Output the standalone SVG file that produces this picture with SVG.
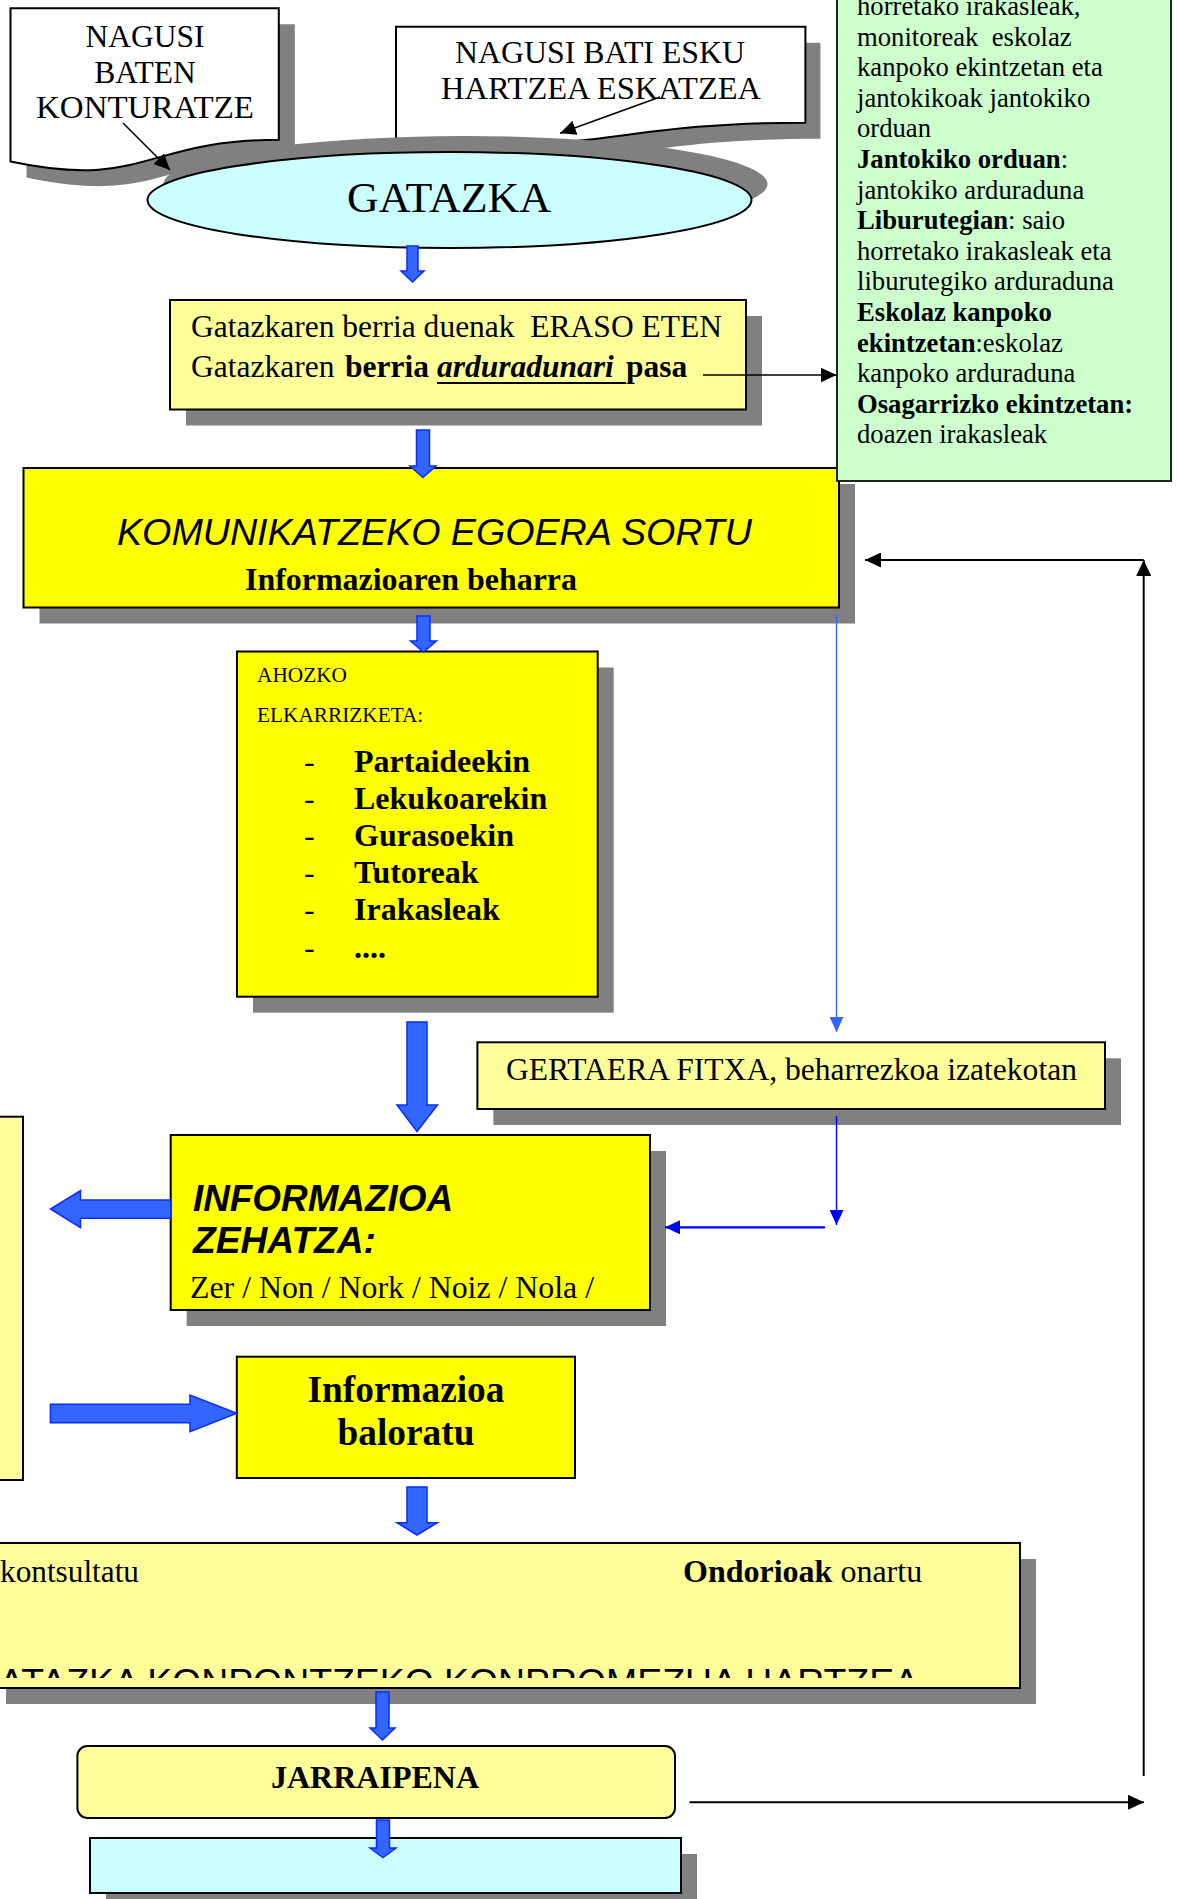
<svg xmlns="http://www.w3.org/2000/svg" width="1179" height="1899" viewBox="0 0 1179 1899">
<style>
.serif{font-family:"Liberation Serif","Times New Roman",serif;fill:#000}
.sans{font-family:"Liberation Sans",Arial,sans-serif;fill:#000}
.b{font-weight:bold}
.i{font-style:italic}
.box{stroke:#000;stroke-width:2}
.shadow{fill:#808080}
.ylw{fill:#FFFF00}
.pale{fill:#FFFF99}
.cyan{fill:#CCFFFF}
.green{fill:#CCFFCC}
.white{fill:#FFFFFF}
.blk{stroke:#000;fill:none}
.blu{fill:#3366FF;stroke:#0a2cff;stroke-width:1.5}
.mid{text-anchor:middle}
</style>
<defs>
<marker id="ah" markerUnits="userSpaceOnUse" markerWidth="16" markerHeight="15" viewBox="0 0 16 15" refX="16" refY="7.5" orient="auto"><path d="M0,0 L16,7.5 L0,15 Z" fill="#000"/></marker>
<marker id="ahb1" markerUnits="userSpaceOnUse" markerWidth="15" markerHeight="14" viewBox="0 0 15 14" refX="15" refY="7" orient="auto"><path d="M0,0 L15,7 L0,14 Z" fill="#3366FF"/></marker>
<marker id="ahb2" markerUnits="userSpaceOnUse" markerWidth="15" markerHeight="14" viewBox="0 0 15 14" refX="15" refY="7" orient="auto"><path d="M0,0 L15,7 L0,14 Z" fill="#0000FF"/></marker>
<clipPath id="clipBig"><rect x="-20" y="1545" width="1060" height="133"/></clipPath>
</defs>

<g id="node-nagusi-baten">
<path class="shadow" transform="translate(16,16)" d="M10.5,8.3 H278.8 V139.8 C144.6,139.8 144.6,189.9 10.5,161.5 Z"/>
<path class="white box" d="M10.5,8.3 H278.8 V139.8 C144.6,139.8 144.6,189.9 10.5,161.5 Z"/>
<text class="serif mid" x="145" y="47" font-size="31.5">NAGUSI</text>
<text class="serif mid" x="145" y="83" font-size="31.5">BATEN</text>
<text class="serif mid" x="145" y="118" font-size="31.5" textLength="218" lengthAdjust="spacingAndGlyphs">KONTURATZE</text>
</g>

<g id="node-nagusi-bati">
<path class="shadow" transform="translate(15,16)" d="M396,26.7 H805.4 V122.7 C600.7,122.7 600.7,159.3 396,138.5 Z"/>
<path class="white box" d="M396,26.7 H805.4 V122.7 C600.7,122.7 600.7,159.3 396,138.5 Z"/>
<text class="serif mid" x="600" y="63" font-size="31.5" textLength="290" lengthAdjust="spacingAndGlyphs">NAGUSI BATI ESKU</text>
<text class="serif mid" x="601" y="99" font-size="31.5" textLength="320" lengthAdjust="spacingAndGlyphs">HARTZEA ESKATZEA</text>
</g>

<g id="node-gatazka">
<ellipse class="shadow" cx="465.5" cy="184" rx="302" ry="48"/>
<ellipse class="cyan box" cx="449.5" cy="200" rx="302" ry="48"/>
<text class="serif mid" x="449" y="212" font-size="42" textLength="204" lengthAdjust="spacingAndGlyphs">GATAZKA</text>
</g>

<g id="node-berria">
<rect class="shadow" x="186" y="316" width="576" height="109.5"/>
<rect class="pale box" x="170" y="300" width="576" height="109.5"/>
<text class="serif" x="191" y="337" font-size="31.5" xml:space="preserve" textLength="531" lengthAdjust="spacingAndGlyphs">Gatazkaren berria duenak  ERASO ETEN</text>
<text class="serif" y="377" font-size="31.5"><tspan x="191">Gatazkaren</tspan><tspan class="b" x="345">berria</tspan><tspan class="b i" x="437">arduradunari</tspan><tspan class="b" x="626">pasa</tspan></text>
<line x1="437" y1="383" x2="626" y2="383" stroke="#000" stroke-width="2.2"/>
</g>

<g id="node-komunikatzeko">
<rect class="shadow" x="39.5" y="484" width="815.5" height="139.5"/>
<rect class="ylw box" x="23.5" y="468" width="815.5" height="139.5"/>
<text class="sans i" x="117" y="544.5" font-size="37" textLength="635" lengthAdjust="spacingAndGlyphs">KOMUNIKATZEKO EGOERA SORTU</text>
<text class="serif b" x="245" y="590" font-size="32" textLength="332" lengthAdjust="spacingAndGlyphs">Informazioaren beharra</text>
</g>

<g id="node-arduradunak">
<rect class="green" x="837" y="-20" width="334" height="501" stroke="#222" stroke-width="2"/>
<g class="serif" font-size="26.67">
<text x="857" y="15">horretako irakasleak,</text>
<text x="857" y="45.6" xml:space="preserve">monitoreak  eskolaz</text>
<text x="857" y="76.2">kanpoko ekintzetan eta</text>
<text x="857" y="106.8">jantokikoak jantokiko</text>
<text x="857" y="137.4">orduan</text>
<text x="857" y="168"><tspan class="b">Jantokiko orduan</tspan>:</text>
<text x="857" y="198.6">jantokiko arduraduna</text>
<text x="857" y="229.2"><tspan class="b">Liburutegian</tspan>: saio</text>
<text x="857" y="259.8">horretako irakasleak eta</text>
<text x="857" y="290.4">liburutegiko arduraduna</text>
<text x="857" y="321" class="b">Eskolaz kanpoko</text>
<text x="857" y="351.6"><tspan class="b">ekintzetan</tspan>:eskolaz</text>
<text x="857" y="382.2">kanpoko arduraduna</text>
<text x="857" y="412.8" class="b">Osagarrizko ekintzetan:</text>
<text x="857" y="443.4">doazen irakasleak</text>
</g>
</g>

<g id="node-ahozko">
<rect class="shadow" x="253" y="667.5" width="360.7" height="345.2"/>
<rect class="ylw box" x="237" y="651.5" width="360.7" height="345.2"/>
<text class="serif" x="257" y="682" font-size="21.3">AHOZKO</text>
<text class="serif" x="257" y="722.3" font-size="21.3">ELKARRIZKETA:</text>
<g class="serif" font-size="32">
<text x="304" y="772">-</text><text class="b" x="354" y="772">Partaideekin</text>
<text x="304" y="809">-</text><text class="b" x="354" y="809">Lekukoarekin</text>
<text x="304" y="846">-</text><text class="b" x="354" y="846">Gurasoekin</text>
<text x="304" y="883">-</text><text class="b" x="354" y="883">Tutoreak</text>
<text x="304" y="919.5">-</text><text class="b" x="354" y="919.5">Irakasleak</text>
<text x="304" y="957.5">-</text><text class="b" x="354" y="957.5">....</text>
</g>
</g>

<g id="node-gertaera">
<rect class="shadow" x="493.4" y="1058.3" width="627.6" height="66.7"/>
<rect class="pale box" x="477.4" y="1042.3" width="627.6" height="66.7"/>
<text class="serif" x="506" y="1080" font-size="31" textLength="571" lengthAdjust="spacingAndGlyphs">GERTAERA FITXA, beharrezkoa izatekotan</text>
</g>

<g id="node-informazioa-zehatza">
<rect class="shadow" x="186.7" y="1151" width="479.3" height="175"/>
<rect class="ylw box" x="170.7" y="1135" width="479.3" height="175"/>
<text class="sans b i" x="193" y="1210.7" font-size="36.8" textLength="260" lengthAdjust="spacingAndGlyphs">INFORMAZIOA</text>
<text class="sans b i" x="193" y="1253" font-size="36.8" textLength="183" lengthAdjust="spacingAndGlyphs">ZEHATZA:</text>
<text class="serif" x="190" y="1298" font-size="32" textLength="404" lengthAdjust="spacingAndGlyphs">Zer / Non / Nork / Noiz / Nola /</text>
</g>

<g id="node-left">
<rect class="pale box" x="-10" y="1116.7" width="33" height="363.3"/>
</g>

<g id="node-baloratu">
<rect class="ylw box" x="236.8" y="1356.7" width="338.2" height="121.3"/>
<text class="serif b mid" x="406" y="1401.7" font-size="37.3">Informazioa</text>
<text class="serif b mid" x="406" y="1445" font-size="37.3">baloratu</text>
</g>

<g id="node-ondorioak">
<rect class="shadow" x="6" y="1559" width="1030" height="145"/>
<rect class="pale box" x="-10" y="1543" width="1030" height="145"/>
<text class="serif" x="0" y="1581.7" font-size="31.5" textLength="139" lengthAdjust="spacingAndGlyphs">kontsultatu</text>
<text class="serif" x="683" y="1581.7" font-size="32"><tspan class="b">Ondorioak</tspan> onartu</text>
<text class="sans" x="-1" y="1695" font-size="37.5" clip-path="url(#clipBig)" textLength="920" lengthAdjust="spacingAndGlyphs">ATAZKA KONPONTZEKO KONPROMEZUA HARTZEA</text>
</g>

<g id="node-jarraipena">
<rect class="pale box" x="77.4" y="1746" width="597.6" height="72" rx="10" ry="10"/>
<text class="serif b mid" x="375" y="1788" font-size="32">JARRAIPENA</text>
</g>

<g id="node-bottom">
<rect class="shadow" x="106" y="1854" width="591" height="60"/>
<rect class="cyan box" x="90" y="1838" width="591" height="55"/>
</g>

<g id="connectors">
<line class="blk" x1="123" y1="123" x2="170" y2="170" stroke-width="1.6" marker-end="url(#ah)"/>
<line class="blk" x1="660" y1="97" x2="560" y2="133.3" stroke-width="1.6" marker-end="url(#ah)"/>
<line class="blk" x1="703" y1="375" x2="836.5" y2="375" stroke-width="1.5" marker-end="url(#ah)"/>
<line class="blk" x1="1143.7" y1="1776" x2="1143.7" y2="560" stroke-width="2" marker-end="url(#ah)"/>
<line class="blk" x1="1143.7" y1="560" x2="865" y2="560" stroke-width="2" marker-end="url(#ah)"/>
<line class="blk" x1="689.5" y1="1802.3" x2="1144" y2="1802.3" stroke-width="2" marker-end="url(#ah)"/>
<line x1="836.5" y1="615" x2="836.5" y2="1032" stroke="#3366FF" stroke-width="1.4" marker-end="url(#ahb1)"/>
<line x1="836.5" y1="1116" x2="836.5" y2="1225" stroke="#0000FF" stroke-width="1.4" marker-end="url(#ahb2)"/>
<line x1="825" y1="1227.3" x2="665" y2="1227.3" stroke="#0000FF" stroke-width="2.2" marker-end="url(#ahb2)"/>
<polygon class="blu" points="407,246 418,246 418,271 424,271 412.5,282 401,271 407,271"/>
<polygon class="blu" points="416.5,430 429.5,430 429.5,466 436,466 423,477.5 410,466 416.5,466"/>
<polygon class="blu" points="417,616 430,616 430,641 436.5,641 423.5,652 410.5,641 417,641"/>
<polygon class="blu" points="407,1022 427,1022 427,1105 437.5,1105 417,1131.5 397,1105 407,1105"/>
<polygon class="blu" points="407,1487 427,1487 427,1522.7 437.5,1522.7 417,1535 397,1522.7 407,1522.7"/>
<polygon class="blu" points="376,1692 389,1692 389,1728 395,1728 382.5,1740 370,1728 376,1728"/>
<polygon class="blu" points="376.5,1820 389.5,1820 389.5,1848 396,1848 383,1857.5 370,1848 376.5,1848"/>
<polygon class="blu" points="170.7,1200 80.5,1200 80.5,1190.7 50.4,1209 80.5,1227.7 80.5,1218.3 170.7,1218.3"/>
<polygon class="blu" points="50.4,1404.3 190,1404.3 190,1395 236.8,1413.3 190,1431.7 190,1422.7 50.4,1422.7"/>
</g>
</svg>
